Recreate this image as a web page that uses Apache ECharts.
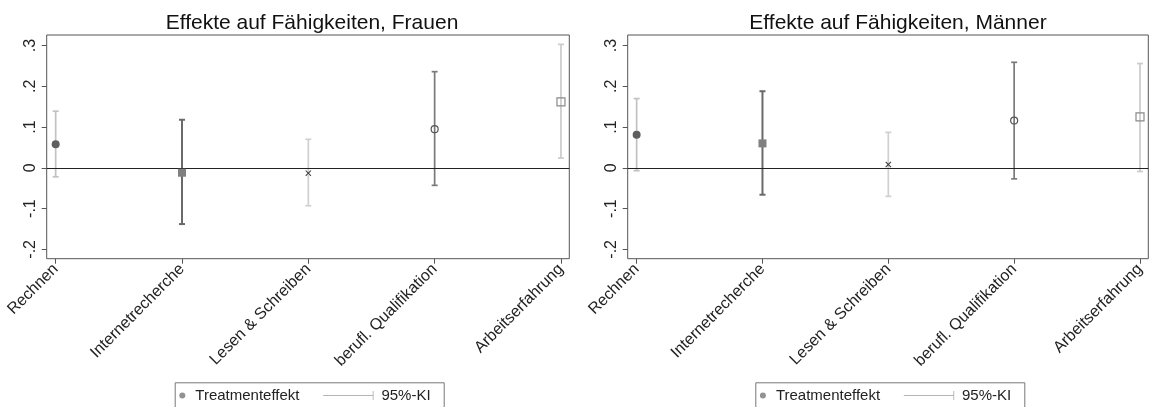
<!DOCTYPE html>
<html>
<head>
<meta charset="utf-8">
<script src="https://cdn.jsdelivr.net/npm/echarts@6/dist/echarts.min.js"></script>
<style>html,body{margin:0;padding:0;background:#fff}#c{width:1149px;height:407px}</style>
</head>
<body>
<div id="c"></div>
<script>
const categories = ['Rechnen', 'Internetrecherche', 'Lesen & Schreiben', 'berufl. Qualifikation', 'Arbeitserfahrung'];
const frauenEst = [0.058, -0.012, -0.013, 0.095, 0.162];
const frauenLo  = [-0.022, -0.138, -0.093, -0.043, 0.024];
const frauenHi  = [0.139, 0.118, 0.070, 0.236, 0.303];
const maennerEst = [0.081, 0.060, 0.008, 0.116, 0.125];
const maennerLo  = [-0.007, -0.066, -0.070, -0.027, -0.009];
const maennerHi  = [0.170, 0.188, 0.087, 0.259, 0.256];
const yTicks = [-0.2, -0.1, 0, 0.1, 0.2, 0.3];
const zeroLine = 0;
const titles = ['Effekte auf Fähigkeiten, Frauen', 'Effekte auf Fähigkeiten, Männer'];
const legendNames = ['Treatmenteffekt', '95%-KI'];

// styles (per category)
const FONT = "'Liberation Sans', Arial, sans-serif";
const xPath = 'path://M0,1.2 L1.2,0 L5,3.8 L8.8,0 L10,1.2 L6.2,5 L10,8.8 L8.8,10 L5,6.2 L1.2,10 L0,8.8 L3.8,5 Z';
const markStyles = [
  {symbol: 'circle', size: 8, fill: '#5e5e5e', stroke: null, ci: '#c2c2c2', w: 1.7},
  {symbol: 'rect', size: 8, fill: '#808080', stroke: null, ci: '#6a6a6a', w: 2},
  {symbol: xPath, size: 6, fill: '#3a3a3a', stroke: null, ci: '#d0d0d0', w: 1.7},
  {symbol: 'circle', size: 7, fill: 'rgba(0,0,0,0)', stroke: '#555555', ci: '#7a7a7a', w: 1.7},
  {symbol: 'rect', size: 8, fill: 'rgba(0,0,0,0)', stroke: '#8a8a8a', ci: '#cbcbcb', w: 1.7}
];

const panels = [
  {est: frauenEst, lo: frauenLo, hi: frauenHi, left: 46.7, width: 522.6, titleX: 312, legendX: 172.7},
  {est: maennerEst, lo: maennerLo, hi: maennerHi, left: 627.7, width: 520.6, titleX: 898, legendX: 753.3}
];

const catIdx = categories.map((_, i) => i);
const fmtY = v => v === 0 ? '0' : (v < 0 ? '-' : '') + String(Math.abs(v)).replace(/^0/, '');

const option = {
  animation: false,
  backgroundColor: '#fff',
  textStyle: {fontFamily: FONT},
  title: panels.map((p, k) => ({
    text: titles[k], left: p.titleX, top: 13, padding: 0, textAlign: 'center',
    textStyle: {fontFamily: FONT, fontSize: 21, fontWeight: 'normal', color: '#111'}
  })),
  grid: panels.map(p => ({
    left: p.left, top: 35, width: p.width, height: 223.7,
    show: true, borderColor: '#555', borderWidth: 1, backgroundColor: 'transparent'
  })),
  xAxis: panels.map((p, k) => ({
    type: 'value', gridIndex: k, min: -0.071, max: 4.066, position: 'bottom',
    splitLine: {show: false}, axisLine: {show: false, onZero: false},
    axisTick: {show: true, customValues: catIdx, length: 5, lineStyle: {color: '#555'}},
    axisLabel: {customValues: catIdx, rotate: 45, margin: 8, fontSize: 16, color: '#222', fontFamily: FONT,
      formatter: v => categories[Math.round(v)]}
  })),
  yAxis: panels.map((p, k) => ({
    type: 'value', gridIndex: k, min: -0.223, max: 0.326, position: 'left',
    splitLine: {show: false}, axisLine: {show: false, onZero: false},
    axisTick: {show: true, customValues: yTicks, length: 5, lineStyle: {color: '#555'}},
    axisLabel: {customValues: yTicks, rotate: 90, margin: 8, fontSize: 16, color: '#222', fontFamily: FONT,
      formatter: fmtY}
  })),
  legend: [],
  graphic: panels.map(p => ({
    type: 'rect', left: p.legendX, top: 380.3, shape: {width: 269, height: 40},
    style: {fill: 'none', stroke: '#777', lineWidth: 1}, silent: true
  })),
  series: []
};

panels.forEach((p, k) => {
  option.legend.push({
    data: [{name: legendNames[0], icon: 'circle', itemStyle: {color: '#777'}}],
    left: p.legendX + 6.6, top: 388, padding: 0, itemWidth: 16, itemHeight: 6,
    textStyle: {fontSize: 15, color: '#222', fontFamily: FONT}, selectedMode: false
  });
  option.legend.push({
    data: [{name: legendNames[1], icon: 'path://M0,4.4 L55,4.4 L55,0 L56,0 L56,10 L55,10 L55,5.6 L0,5.6 Z', itemStyle: {color: '#b5b5b5'}}],
    left: p.legendX + 150.5, top: 388, padding: 0, itemWidth: 56, itemHeight: 9,
    textStyle: {fontSize: 15, color: '#222', fontFamily: FONT}, selectedMode: false
  });
  option.series.push({
    type: 'custom', name: legendNames[1], xAxisIndex: k, yAxisIndex: k, z: 2,
    data: catIdx.map(i => [i, p.lo[i], p.hi[i]]),
    renderItem: (params, api) => {
      const st = markStyles[params.dataIndex];
      const a = api.coord([api.value(0), api.value(1)]);
      const b = api.coord([api.value(0), api.value(2)]);
      const cap = 3;
      const ls = {stroke: st.ci, lineWidth: st.w};
      return {type: 'group', children: [
        {type: 'line', shape: {x1: a[0], y1: a[1], x2: b[0], y2: b[1]}, style: ls},
        {type: 'line', shape: {x1: a[0] - cap, y1: a[1], x2: a[0] + cap, y2: a[1]}, style: ls},
        {type: 'line', shape: {x1: b[0] - cap, y1: b[1], x2: b[0] + cap, y2: b[1]}, style: ls}
      ]};
    }
  });
  option.series.push({
    type: 'scatter', name: legendNames[0], xAxisIndex: k, yAxisIndex: k, z: 4,
    data: catIdx.map(i => {
      const st = markStyles[i];
      return {
        value: [i, p.est[i]], symbol: st.symbol, symbolSize: st.size,
        itemStyle: {color: st.fill, borderColor: st.stroke || st.fill, borderWidth: st.stroke ? 1.2 : 0, opacity: 1}
      };
    }),
    markLine: {
      silent: true, symbol: ['none', 'none'], label: {show: false}, z: 3,
      lineStyle: {color: '#222', width: 1.2, type: 'solid'},
      data: [{yAxis: zeroLine}]
    }
  });
});

const chart = echarts.init(document.getElementById('c'), null, {renderer: 'canvas'});
chart.setOption(option);
</script>
</body>
</html>
